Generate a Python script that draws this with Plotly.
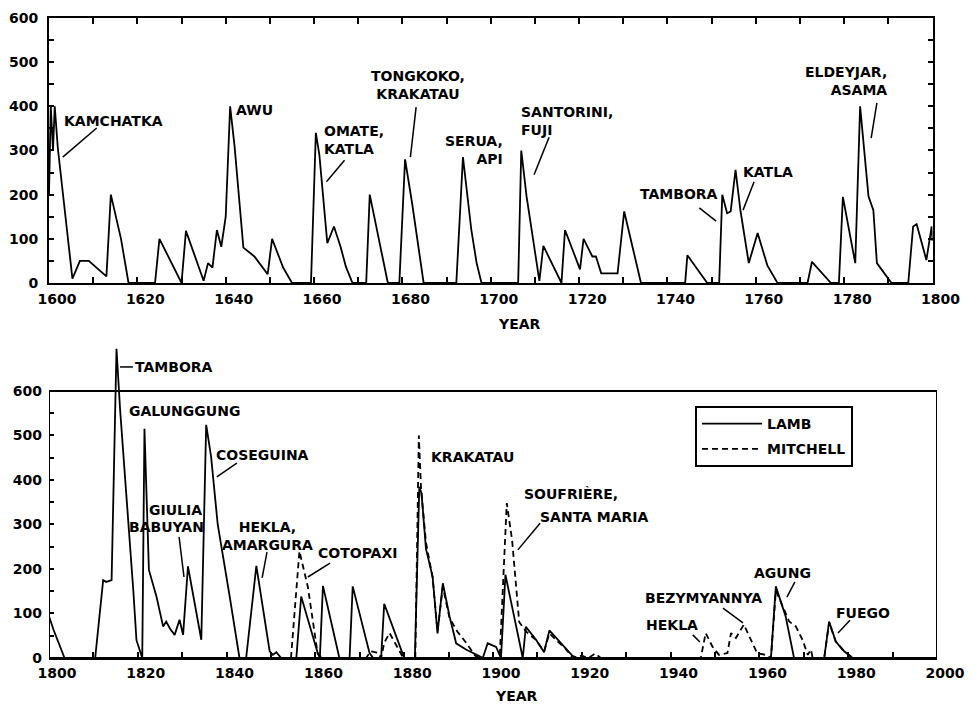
import plotly.graph_objects as go

# ---------------- data: Dust veil index ----------------
# Upper panel, Lamb DVI 1600-1800
lamb_early_years = [1600, 1600.4, 1600.9, 1601.3, 1602, 1603, 1605.3, 1607, 1609, 1613, 1614, 1616.3, 1618,
                    1624, 1625, 1630, 1631, 1635, 1636, 1637, 1638, 1639, 1640, 1641, 1642, 1644, 1646.5,
                    1649.5, 1650.5, 1653, 1655, 1659.3, 1660.4, 1661.2, 1663, 1664.5, 1666, 1667.2, 1668.7,
                    1671.8, 1672.6, 1676.7, 1679.3, 1680.6, 1682.2, 1684.8, 1692.2, 1693.7, 1695.6, 1696.8,
                    1697.9, 1706.2, 1706.9, 1708.1, 1710.4, 1711, 1711.9, 1716, 1716.8, 1720.2, 1721, 1723,
                    1723.8, 1725, 1728.7, 1730.2, 1734, 1744, 1744.5, 1749, 1751.7, 1752.4, 1753.5, 1754.3,
                    1755.4, 1756.5, 1758.4, 1760.4, 1762.6, 1764.9, 1771.7, 1772.7, 1777, 1778.8, 1779.7,
                    1782.5, 1783.6, 1785.5, 1786.6, 1787.4, 1790.7, 1794.5, 1795.6, 1796.4, 1798.6, 1799.8,
                    1800]
lamb_early_dvi = [200, 400, 300, 400, 305, 215, 10, 50, 50, 15, 200, 100, 0,
                  0, 100, 0, 118, 5, 45, 35, 120, 82, 150, 400, 310, 80, 60,
                  20, 100, 35, 0, 0, 340, 290, 90, 128, 82, 37, 0,
                  0, 200, 0, 0, 280, 180, 0, 0, 285, 120, 45,
                  0, 0, 300, 196, 52, 5, 84, 0, 120, 31, 100, 60,
                  60, 22, 22, 162, 0, 0, 63, 0, 0, 200, 158, 162,
                  256, 165, 45, 113, 40, 0, 0, 48, 0, 0, 195,
                  45, 400, 196, 165, 45, 0, 0, 128, 133, 52, 128,
                  95]

# Lower panel, Lamb DVI 1800-2000
lamb_late_years = [1800, 1801, 1803.5, 1810.4, 1812.2, 1812.9, 1814.1, 1815.2, 1816, 1817, 1818, 1819,
                   1819.7, 1820.5, 1821, 1821.5, 1822.5, 1824.2, 1825.7, 1826.4, 1827.3, 1828.3, 1829.4,
                   1830.2, 1831.3, 1834.3, 1835.4, 1836.5, 1838, 1840.7, 1842.9, 1844.4, 1846.7, 1849.7,
                   1850.4, 1851.2, 1852.3, 1855.7, 1856.8, 1860.5, 1861, 1861.7, 1865.4, 1867.7, 1868.4,
                   1872.2, 1873, 1874.8, 1875.5, 1879.7, 1880, 1882.4, 1883.4, 1883.9, 1884.9, 1886.4,
                   1887.5, 1888.7, 1890.2, 1891.7, 1893.9, 1897, 1897.7, 1898.8, 1900.7, 1901.8, 1902.8,
                   1906.7, 1907.4, 1909.7, 1911.5, 1912.7, 1916.4, 1917.9, 1919, 1962.6, 1963.7, 1965.9,
                   1967.8, 1974.6, 1975.7, 1977.2, 1979.1, 1980.2, 1981]
lamb_late_dvi = [94, 64, 0, 0, 175, 171, 175, 695, 560, 430, 300, 150,
                 40, 15, 0, 515, 198, 138, 71, 82, 65, 52, 86,
                 52, 206, 41, 524, 453, 300, 138, 0, 0, 207, 15,
                 7, 13, 0, 0, 138, 12, 0, 162, 0, 0, 161,
                 11, 0, 0, 122, 8, 0, 0, 385, 370, 245, 183,
                 55, 168, 94, 33, 19, 4, 0, 33, 25, 0, 187,
                 0, 70, 41, 13, 62, 20, 5, 0, 0, 161, 94,
                 0, 0, 82, 37, 15, 7, 0]

# Lower panel, Mitchell index
mitchell_years = [1854.5, 1856.4, 1858.3, 1860.5, 1861.5, 1871.4, 1872.5, 1874, 1874.8, 1875.5, 1876.7,
                  1878.5, 1879.8, 1882.5, 1883.3, 1883.8, 1884.9, 1886.4, 1887.5, 1888.7, 1890.2, 1892,
                  1893.9, 1896, 1897, 1901.5, 1903.1, 1904.3, 1905.9, 1907.4, 1909.7, 1911.5, 1912.7,
                  1916.4, 1918, 1920, 1921.5, 1923, 1924.3, 1946.8, 1947.9, 1949.4, 1950.9, 1952.8, 1953.6,
                  1954.7, 1956.5, 1957.7, 1959.5, 1961.4, 1962.6, 1963.7, 1964.3, 1966.7, 1968.2, 1969.7,
                  1970.9, 1971.6, 1972, 1974.6, 1975.7, 1977.2, 1979.1, 1980.2, 1981]
mitchell_dvi = [0, 240, 160, 10, 0, 0, 15, 12, 0, 34, 56,
                25, 0, 0, 500, 380, 260, 180, 60, 160, 90, 59,
                35, 5, 0, 0, 348, 265, 81, 60, 40, 15, 55,
                20, 0, 5, 0, 10, 0, 0, 56, 26, 7, 11, 56,
                45, 75, 49, 11, 7, 0, 150, 138, 82, 71, 41,
                7, 19, 0, 0, 80, 37, 15, 7, 0]

y_ticks = [0, 100, 200, 300, 400, 500, 600]
y_minor = [50, 150, 250, 350, 450, 550]
x_ticks_top = list(range(1600, 1801, 20))
x_ticks_bottom = list(range(1800, 2001, 20))
series_names = ["LAMB", "MITCHELL"]

# ---------------- figure ----------------
FONT = "DejaVu Sans"
BLACK = "black"
tickfont = dict(family=FONT, size=14, color=BLACK, weight="bold")
annfont = dict(family=FONT, size=14, color=BLACK, weight="bold")

fig = go.Figure()

fig.add_trace(go.Scatter(x=lamb_early_years, y=lamb_early_dvi, mode="lines",
                         line=dict(color=BLACK, width=1.8), xaxis="x", yaxis="y",
                         showlegend=False, hoverinfo="skip"))
fig.add_trace(go.Scatter(x=lamb_late_years, y=lamb_late_dvi, mode="lines", name=series_names[0],
                         legendgroup="lamb",
                         line=dict(color=BLACK, width=1.8), xaxis="x2", yaxis="y2",
                         showlegend=True))
fig.add_trace(go.Scatter(x=mitchell_years, y=mitchell_dvi, mode="lines", name=series_names[1],
                         legendgroup="mitchell",
                         line=dict(color=BLACK, width=1.8, dash="6px,4px"), xaxis="x2", yaxis="y2",
                         showlegend=True))

top_dom = [0.5787, 0.9877]
bot_top = 710
bot_dom = [0.0, 0.4876]
pos_600 = bot_dom[0] + (bot_dom[1] - bot_dom[0]) * 600 / bot_top

common_x = dict(showgrid=False, zeroline=False, ticks="inside", ticklen=6, tickwidth=1.5,
                tickcolor=BLACK, tickfont=tickfont, linecolor=BLACK, linewidth=2, automargin=False,
                ticklabelshift=8)
common_y = dict(showgrid=False, zeroline=False, ticks="inside", ticklen=5, tickwidth=1.5,
                tickcolor=BLACK, tickfont=tickfont, linecolor=BLACK, linewidth=2,
                tickmode="array", tickvals=y_ticks, automargin=False)

fig.update_layout(
    width=967, height=698, autosize=False,
    margin=dict(l=41, r=38, t=2, b=48, autoexpand=False),
    paper_bgcolor="white", plot_bgcolor="white",
    font=dict(family=FONT, color=BLACK),
    xaxis=dict(domain=[0, 0.995], range=[1600, 1800], anchor="y", showline=True, mirror="allticks",
               tickmode="array", tickvals=x_ticks_top, ticklabelstandoff=2,
               minor=dict(ticks="inside", dtick=10, tick0=1600, ticklen=6, tickwidth=1.5, tickcolor=BLACK),
               **common_x),
    yaxis=dict(domain=top_dom, range=[0, 600], anchor="x", showline=True, mirror="allticks",
               ticklabelstandoff=6,
               minor=dict(ticks="inside", tickvals=y_minor, ticklen=5, tickwidth=1.5, tickcolor=BLACK),
               **common_y),
    yaxis3=dict(overlaying="y", side="right", anchor="x", range=[0, 600], showline=False,
                showgrid=False, zeroline=False, ticks="", tickmode="array", tickvals=y_ticks,
                tickfont=tickfont, ticklabelstandoff=6, automargin=False),
    xaxis2=dict(domain=[0, 1], range=[1800, 2000], anchor="y2", showline=True, mirror=False,
                tickmode="array", tickvals=x_ticks_bottom, ticklabelstandoff=1,
                minor=dict(ticks="inside", dtick=10, tick0=1800, ticklen=6, tickwidth=1.5, tickcolor=BLACK),
                **common_x),
    xaxis3=dict(overlaying="x2", side="top", anchor="free", position=pos_600, range=[1800, 2000],
                showline=False, showgrid=False, zeroline=False, showticklabels=False,
                ticks="inside", ticklen=5, tickwidth=1.5, tickcolor=BLACK, tickmode="linear",
                tick0=1800, dtick=10, automargin=False),
    yaxis2=dict(domain=bot_dom, range=[0, bot_top], anchor="x2", showline=False, ticklabelstandoff=6,
                minor=dict(ticks="inside", tickvals=y_minor, ticklen=5, tickwidth=1.5, tickcolor=BLACK),
                **common_y),
    yaxis4=dict(overlaying="y2", side="right", anchor="x2", range=[0, bot_top], showline=False,
                ticklabelstandoff=4,
                minor=dict(ticks="inside", tickvals=y_minor, ticklen=5, tickwidth=1.5, tickcolor=BLACK),
                **common_y),
    legend=dict(x=0.7275, y=0.3889, xanchor="left", yanchor="top", bgcolor="white",
                bordercolor=BLACK, borderwidth=2, font=dict(family=FONT, size=14, color=BLACK, weight="bold"),
                itemwidth=60, tracegroupgap=4),
)

# frame of the lower panel (0-600)
fig.add_shape(type="rect", xref="x2", yref="y2", x0=1800, x1=2000, y0=0, y1=600,
              line=dict(color=BLACK, width=2), layer="above")

# ---------------- labels ----------------
def label(text, x, y, panel, xanchor="center", align="center"):
    xr, yr = ("x", "y") if panel == 1 else ("x2", "y2")
    fig.add_annotation(text=text, x=x, y=y, xref=xr, yref=yr, showarrow=False,
                       xanchor=xanchor, yanchor="middle", align=align, font=annfont)

def leader(x0, y0, x1, y1, panel):
    xr, yr = ("x", "y") if panel == 1 else ("x2", "y2")
    fig.add_shape(type="line", xref=xr, yref=yr, x0=x0, y0=y0, x1=x1, y1=y1,
                  line=dict(color=BLACK, width=1.5))

# upper panel
label("KAMCHATKA", 1614.6, 367, 1)
leader(1610.8, 351, 1603.1, 285, 1)
label("AWU", 1646.5, 392, 1)
label("OMATE,<br>KATLA", 1661.9, 324, 1, "left", "left")
leader(1666.9, 278, 1662.8, 229, 1)
label("TONGKOKO,<br>KRAKATAU", 1683.6, 448, 1)
leader(1683.1, 398, 1681.8, 285, 1)
label("SERUA,<br>API", 1703.2, 301, 1, "right", "right")
label("SANTORINI,<br>FUJI", 1706.4, 367, 1, "left", "left")
leader(1713.2, 330, 1709.8, 245, 1)
label("TAMBORA", 1742.6, 201, 1)
leader(1747.2, 170, 1751.0, 140, 1)
label("KATLA", 1762.8, 251, 1)
leader(1759.6, 229, 1757.1, 165, 1)
label("ELDEYJAR,<br>ASAMA", 1790.2, 457, 1, "right", "right")
leader(1787.4, 408, 1786.1, 328, 1)

# lower panel
label("TAMBORA", 1818.9, 654, 2, "left", "left")
leader(1816.0, 654, 1818.9, 654, 2)
label("GALUNGGUNG", 1830.6, 555, 2)
label("COSEGUINA", 1848.0, 456, 2)
leader(1842.3, 438, 1837.8, 407, 2)
label("GIULIA", 1828.6, 333, 2)
label("BABUYAN", 1826.4, 294, 2)
leader(1829.3, 272, 1830.4, 182, 2)
label("HEKLA,<br>AMARGURA", 1849.1, 274, 2)
leader(1849.1, 238, 1848.0, 180, 2)
label("COTOPAXI", 1869.4, 236, 2)
leader(1863.3, 213, 1858.3, 182, 2)
label("KRAKATAU", 1895.3, 452, 2)
label("SOUFRIÈRE,", 1906.5, 369, 2, "left", "left")
label("SANTA MARIA", 1910.1, 317, 2, "left", "left")
leader(1910.6, 303, 1905.6, 243, 2)
label("BEZYMYANNYA", 1947.3, 135, 2)
leader(1951.8, 112, 1956.3, 79, 2)
label("HEKLA", 1940.3, 74, 2)
leader(1945.0, 52, 1946.6, 36, 2)
label("AGUNG", 1965.3, 191, 2)
leader(1968.0, 171, 1966.2, 137, 2)
label("FUEGO", 1983.3, 101, 2)
leader(1980.4, 85, 1977.7, 56, 2)

# axis titles
for xp, yp in [(0.530, 0.516), (0.526, -0.059)]:
    fig.add_annotation(text="YEAR", x=xp, y=yp, xref="paper", yref="paper", showarrow=False,
                       xanchor="center", yanchor="middle",
                       font=dict(family=FONT, size=14, color=BLACK, weight="bold"))

fig.write_html("out.html")
